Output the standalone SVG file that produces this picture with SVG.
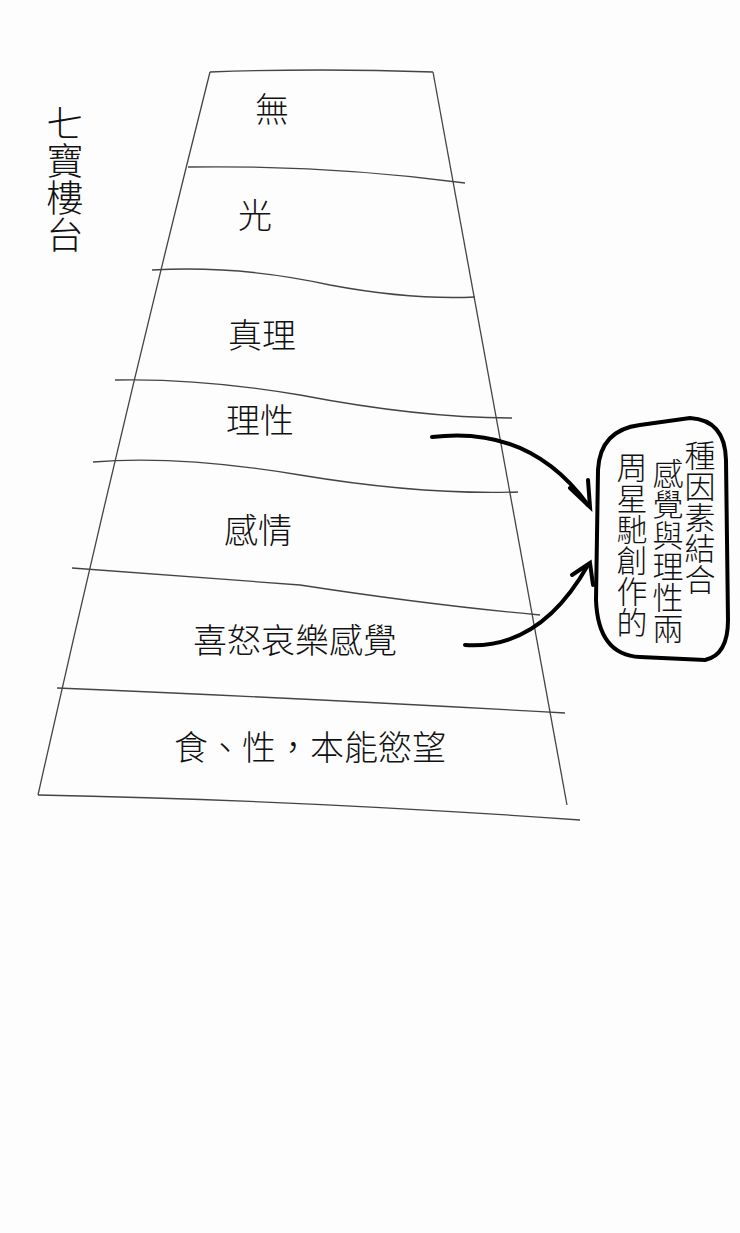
<svg xmlns="http://www.w3.org/2000/svg" width="740" height="1233" viewBox="0 0 740 1233">
<style>
.l{fill:none;stroke:#444;stroke-width:1.3}
.t{font-family:"Noto Sans CJK TC","Noto Sans CJK SC",sans-serif;font-weight:300;fill:#111;font-size:34px;text-anchor:middle}
.v{font-family:"Noto Sans CJK TC","Noto Sans CJK SC",sans-serif;font-weight:300;fill:#111;font-size:31px;writing-mode:vertical-rl}
.a{fill:none;stroke:#000;stroke-width:4;stroke-linecap:round}
</style>
<rect width="740" height="1233" fill="#fdfdfd"/>
<g id="tower">
<path class="l" d="M210 72 Q320 68 433 72"/>
<path class="l" d="M210 72 Q120 430 38 795"/>
<path class="l" d="M433 72 Q500 440 567 805"/>
<path class="l" d="M38 795 Q300 800 580 820"/>
<path class="l" d="M188 167 Q330 165 465 183"/>
<path class="l" d="M152 270 Q240 265 330 285 Q410 300 475 297"/>
<path class="l" d="M115 380 Q200 378 300 395 Q420 418 512 418"/>
<path class="l" d="M93 462 Q180 455 300 475 Q420 495 518 492"/>
<path class="l" d="M72 568 Q170 575 300 585 Q430 605 540 615"/>
<path class="l" d="M57 688 Q300 698 565 713"/>
</g>
<g id="title"><text class="v" x="65" y="105" style="font-size:37px">七寶樓台</text></g>
<g id="n1"><text class="t" x="272" y="122">無</text></g>
<g id="n2"><text class="t" x="255" y="228">光</text></g>
<g id="n3"><text class="t" x="262" y="348">真理</text></g>
<g id="n4"><text class="t" x="260" y="433">理性</text></g>
<g id="n5"><text class="t" x="258" y="543">感情</text></g>
<g id="n6"><text class="t" x="295" y="653">喜怒哀樂感覺</text></g>
<g id="n7"><text class="t" x="310" y="760">食、性，本能慾望</text></g>
<g id="note">
<path class="a" d="M640 425 Q600 430 598 470 L596 600 Q598 655 640 657 L705 660 Q728 655 728 620 L726 460 Q725 420 690 418 Z" stroke-width="3.5"/>
<text class="v" x="700" y="440">種因素結合</text>
<text class="v" x="668" y="458">感覺與理性兩</text>
<text class="v" x="632" y="452">周星馳創作的</text>
</g>
<g id="connectors">
<path class="a" d="M432 437 Q530 425 588 505"/>
<path class="a" d="M570 488 L590 507 L588 480"/>
<path class="a" d="M465 645 Q540 650 588 565"/>
<path class="a" d="M572 575 L590 563 L593 585"/>
</g>
</svg>
